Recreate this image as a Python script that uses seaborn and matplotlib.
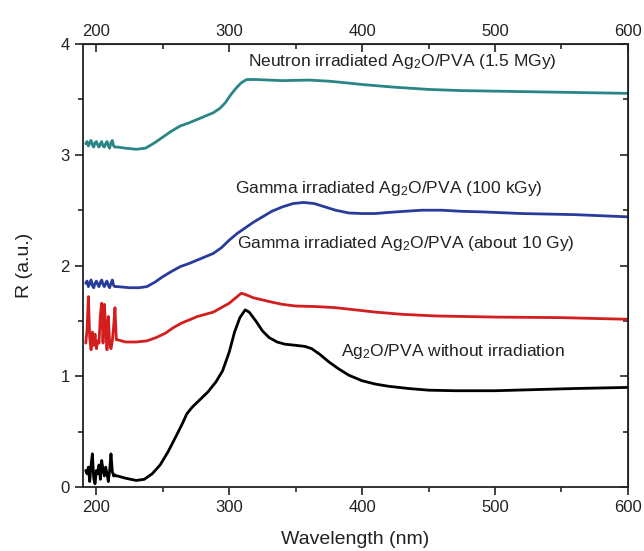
import numpy as np
import pandas as pd
import matplotlib
matplotlib.use("Agg")
import matplotlib.pyplot as plt
from matplotlib.ticker import MultipleLocator
import seaborn as sns

# ---- data ----
noise_x = [192, 193, 194, 195, 196, 197, 198, 199, 200, 201, 202, 203, 204, 205,
           206, 207, 208, 209, 210, 211, 212, 213, 214, 215]

black_noise = [0.15, 0.12, 0.18, 0.05, 0.20, 0.30, 0.08, 0.03, 0.15, 0.12, 0.20, 0.07,
               0.24, 0.16, 0.10, 0.18, 0.12, 0.05, 0.15, 0.30, 0.14, 0.10, 0.11, 0.10]
black_x = [216, 222, 230, 236, 242, 248, 254, 260, 265, 268, 272, 278, 284, 290, 295,
           300, 304, 308, 312, 315, 320, 325, 330, 336, 342, 350, 357, 362, 368, 375,
           382, 390, 400, 410, 420, 435, 450, 470, 500, 530, 560, 600]
black_y = [0.10, 0.08, 0.06, 0.07, 0.12, 0.20, 0.32, 0.46, 0.58, 0.66, 0.72, 0.79, 0.86,
           0.95, 1.05, 1.22, 1.40, 1.53, 1.60, 1.58, 1.50, 1.41, 1.35, 1.31, 1.29, 1.28,
           1.27, 1.25, 1.20, 1.13, 1.07, 1.01, 0.96, 0.93, 0.91, 0.89, 0.875, 0.87, 0.87,
           0.88, 0.89, 0.90]

red_noise = [1.30, 1.42, 1.72, 1.35, 1.24, 1.40, 1.28, 1.38, 1.25, 1.32, 1.30, 1.55,
             1.66, 1.30, 1.65, 1.45, 1.24, 1.54, 1.30, 1.25, 1.32, 1.45, 1.62, 1.33]
red_x = [216, 222, 230, 238, 245, 252, 258, 264, 270, 276, 282, 288, 294, 300, 305, 309,
         312, 318, 325, 332, 340, 350, 365, 380, 395, 410, 430, 456, 500, 550, 600]
red_y = [1.33, 1.31, 1.31, 1.32, 1.35, 1.39, 1.44, 1.48, 1.51, 1.54, 1.56, 1.58, 1.62,
         1.66, 1.71, 1.75, 1.74, 1.71, 1.69, 1.67, 1.65, 1.635, 1.63, 1.62, 1.60, 1.58,
         1.56, 1.545, 1.535, 1.53, 1.515]

blue_noise = [1.84, 1.86, 1.81, 1.84, 1.87, 1.82, 1.80, 1.84, 1.86, 1.83, 1.81, 1.85,
              1.87, 1.83, 1.81, 1.84, 1.86, 1.82, 1.80, 1.84, 1.87, 1.82, 1.81, 1.81]
blue_x = [216, 225, 232, 238, 244, 250, 257, 263, 270, 276, 282, 288, 294, 300, 306, 312,
          318, 325, 332, 340, 348, 356, 364, 372, 380, 390, 400, 410, 420, 432, 445, 460,
          475, 490, 520, 560, 600]
blue_y = [1.81, 1.80, 1.80, 1.81, 1.85, 1.90, 1.95, 1.99, 2.02, 2.05, 2.08, 2.11, 2.16,
          2.23, 2.29, 2.34, 2.39, 2.44, 2.49, 2.53, 2.56, 2.57, 2.56, 2.53, 2.50, 2.475,
          2.47, 2.47, 2.48, 2.49, 2.50, 2.50, 2.49, 2.485, 2.47, 2.46, 2.44]

teal_noise = [3.10, 3.12, 3.08, 3.11, 3.13, 3.09, 3.07, 3.11, 3.12, 3.09, 3.07, 3.10,
              3.12, 3.08, 3.07, 3.10, 3.12, 3.08, 3.06, 3.11, 3.13, 3.08, 3.07, 3.07]
teal_x = [216, 222, 230, 237, 244, 250, 256, 263, 270, 276, 282, 288, 293, 297, 301, 305,
          309, 313, 320, 340, 360, 375, 388, 400, 425, 451, 475, 500, 550, 600]
teal_y = [3.07, 3.06, 3.05, 3.06, 3.11, 3.16, 3.21, 3.26, 3.29, 3.32, 3.35, 3.38, 3.42,
          3.47, 3.54, 3.60, 3.65, 3.68, 3.68, 3.67, 3.675, 3.665, 3.65, 3.635, 3.61, 3.59,
          3.58, 3.575, 3.565, 3.555]

x_ticks = [200, 300, 400, 500, 600]
y_ticks = [0, 1, 2, 3, 4]

series = [
    ("Ag2O/PVA", noise_x + black_x, black_noise + black_y, "#000000"),
    ("10 Gy", noise_x + red_x, red_noise + red_y, "#d21e1e"),
    ("100 kGy", noise_x + blue_x, blue_noise + blue_y, "#283c9c"),
    ("1.5 MGy", noise_x + teal_x, teal_noise + teal_y, "#2a8585"),
]

sns.set_style("ticks")
plt.rcParams["font.family"] = ["Liberation Sans", "DejaVu Sans"]
plt.rcParams["mathtext.fontset"] = "custom"
plt.rcParams["mathtext.rm"] = "Liberation Sans"
plt.rcParams["mathtext.it"] = "Liberation Sans:italic"

fig = plt.figure(figsize=(6.44, 5.51), dpi=100)
ax = fig.add_axes([0.129, 0.116, 0.846, 0.804])

for name, xs, ys, col in series:
    df = pd.DataFrame({"x": xs, "y": ys})
    sns.lineplot(data=df, x="x", y="y", ax=ax, color=col, linewidth=2.0,
                 sort=False, estimator=None)

ax.set_xlim(190, 600)
ax.set_ylim(0, 4)
ax.set_xticks(x_ticks)
ax.set_yticks(y_ticks)
ax.xaxis.set_minor_locator(MultipleLocator(50))
ax.yaxis.set_minor_locator(MultipleLocator(0.5))
ax.tick_params(which="major", direction="out", length=6, width=1.2, labelsize=12,
               colors="#222222")
ax.tick_params(which="minor", direction="out", length=3.5, width=1.2)
for s in ax.spines.values():
    s.set_linewidth(1.3)
    s.set_color("#222222")
    s.set_visible(True)

top = ax.secondary_xaxis("top")
top.set_xticks(x_ticks)
top.xaxis.set_minor_locator(MultipleLocator(50))
top.tick_params(which="major", direction="in", length=6, width=1.2, labelsize=12,
                colors="#222222")
top.tick_params(which="minor", direction="in", length=3.5, width=1.2)

right = ax.secondary_yaxis("right")
right.set_yticks(y_ticks)
right.yaxis.set_minor_locator(MultipleLocator(0.5))
right.tick_params(which="major", direction="in", length=6, width=1.2, labelright=False)
right.tick_params(which="minor", direction="in", length=3.5, width=1.2)

ax.set_xlabel("Wavelength (nm)", fontsize=14, labelpad=11, color="#222222")
ax.set_ylabel("R (a.u.)", fontsize=14, labelpad=20, color="#222222")

fs = 12.5
ax.text(314, 3.84, "Neutron irradiated Ag$_2$O/PVA (1.5 MGy)", fontsize=fs,
        ha="left", va="center", color="#222222")
ax.text(304, 2.70, "Gamma irradiated Ag$_2$O/PVA (100 kGy)", fontsize=fs,
        ha="left", va="center", color="#222222")
ax.text(305.5, 2.20, "Gamma irradiated Ag$_2$O/PVA (about 10 Gy)", fontsize=fs,
        ha="left", va="center", color="#222222")
ax.text(384, 1.22, "Ag$_2$O/PVA without irradiation", fontsize=fs,
        ha="left", va="center", color="#222222")

fig.savefig("out.png", dpi=100)
